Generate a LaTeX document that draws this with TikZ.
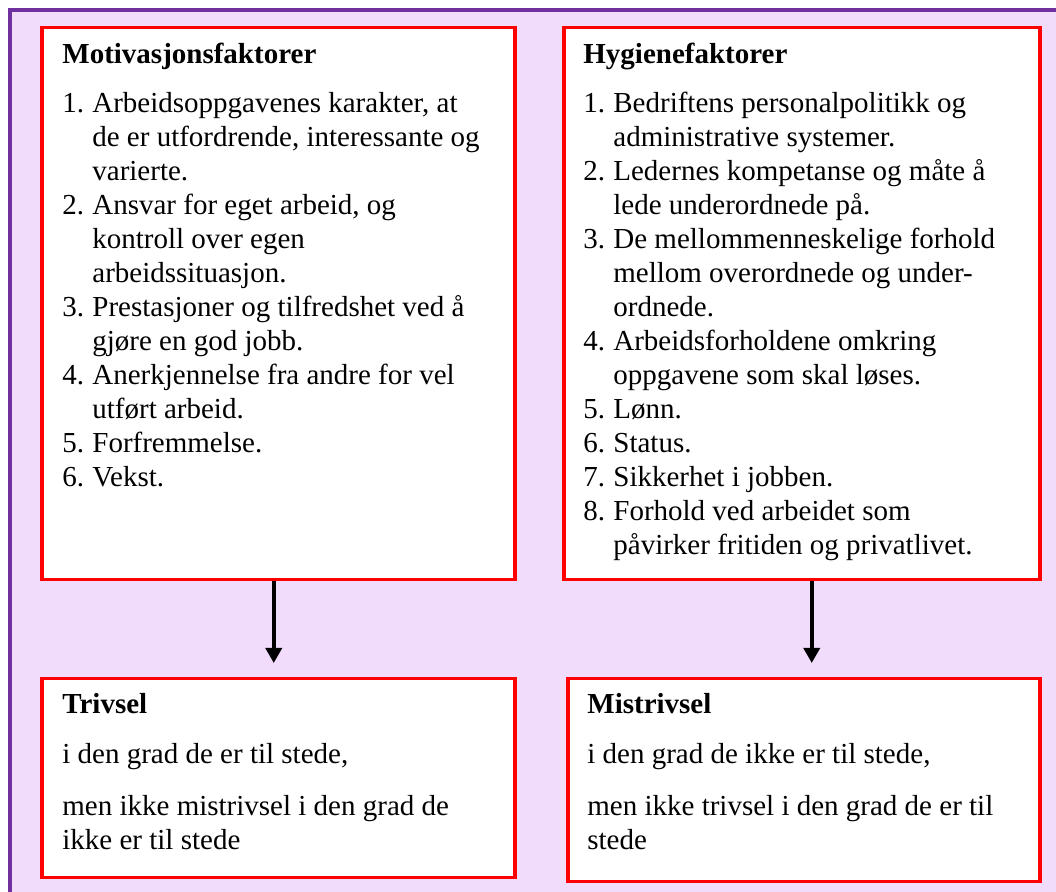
\documentclass[tikz,border=0pt]{standalone}
\usepackage{fontspec}
\setmainfont{Liberation Serif}
\usetikzlibrary{arrows.meta,positioning}
\definecolor{framepurple}{HTML}{7030A0}
\definecolor{bgpurple}{HTML}{F2DCFC}

% list numbers with hanging indent
\newcommand{\itm}[1]{\makebox[15pt][l]{#1}}
\newcommand{\cnt}{\hspace*{15pt}}

\begin{document}
\begin{tikzpicture}[x=0.5pt, y=0.5pt,
  factor/.style={draw=red, line width=1.75pt, fill=white, inner sep=0pt, anchor=north west},
  body/.style={anchor=north west, inner sep=0pt, align=left, font=\fontsize{14.5}{17}\selectfont},
  arr/.style={-{Triangle[width=8pt,length=7.5pt]}, line width=1.75pt}]

\clip (0,0) rectangle (1056,-892);
\draw[framepurple, line width=2pt, fill=bgpurple] (10,-10) rectangle (1100,-940);

% boxes
\node[factor, minimum width=236.5pt, minimum height=276pt] (mot) at (40,-26) {};
\node[factor, minimum width=238pt, minimum height=276pt] (hyg) at (562,-26) {};
\node[factor, minimum width=236.5pt, minimum height=99.5pt] (triv) at (40,-677) {};
\node[factor, minimum width=236pt, minimum height=101.5pt] (mistriv) at (566,-677) {};

% Motivasjonsfaktorer
\node[body] (mottxt) at (62,-43) {\textbf{Motivasjonsfaktorer}\\[7.5pt]
  \itm{1.}Arbeidsoppgavenes karakter, at\\
  \cnt de er utfordrende, interessante og\\
  \cnt varierte.\\
  \itm{2.}Ansvar for eget arbeid, og\\
  \cnt kontroll over egen\\
  \cnt arbeidssituasjon.\\
  \itm{3.}Prestasjoner og tilfredshet ved å\\
  \cnt gjøre en god jobb.\\
  \itm{4.}Anerkjennelse fra andre for vel\\
  \cnt utført arbeid.\\
  \itm{5.}Forfremmelse.\\
  \itm{6.}Vekst.};

% Hygienefaktorer
\node[body] (hygtxt) at (583,-43) {\textbf{Hygienefaktorer}\\[7.5pt]
  \itm{1.}Bedriftens personalpolitikk og\\
  \cnt administrative systemer.\\
  \itm{2.}Ledernes kompetanse og måte å\\
  \cnt lede underordnede på.\\
  \itm{3.}De mellommenneskelige forhold\\
  \cnt mellom overordnede og under-\\
  \cnt ordnede.\\
  \itm{4.}Arbeidsforholdene omkring\\
  \cnt oppgavene som skal løses.\\
  \itm{5.}Lønn.\\
  \itm{6.}Status.\\
  \itm{7.}Sikkerhet i jobben.\\
  \itm{8.}Forhold ved arbeidet som\\
  \cnt påvirker fritiden og privatlivet.};

% Trivsel / Mistrivsel
\node[body] (trivtxt) at (62,-693) {\textbf{Trivsel}\\[8pt]
  i den grad de er til stede,\\[9pt]
  men ikke mistrivsel i den grad de\\
  ikke er til stede};
\node[body] (mistrivtxt) at (587,-693) {\textbf{Mistrivsel}\\[8pt]
  i den grad de ikke er til stede,\\[9pt]
  men ikke trivsel i den grad de er til\\
  stede};

\draw[arr] ([xshift=-2.25pt]mot.south) -- ([xshift=-2.25pt,yshift=7pt]mot.south |- triv.north);
\draw[arr] ([xshift=5pt]hyg.south) -- ([xshift=5pt,yshift=7pt]hyg.south |- mistriv.north);

\end{tikzpicture}
\end{document}
